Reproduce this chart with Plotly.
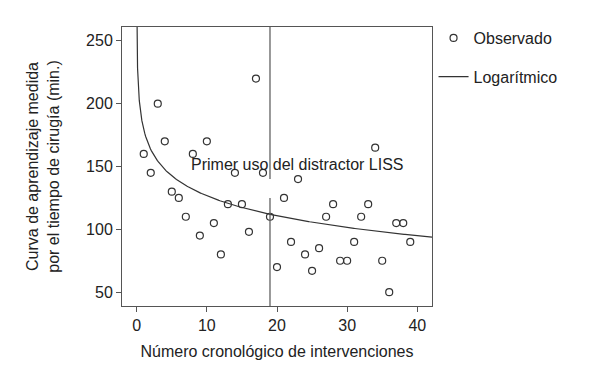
import numpy as np
import plotly.graph_objects as go

# Observed data: intervention number vs surgery time (min.)
intervention = list(range(1, 40))
observed_time = [160, 145, 200, 170, 130, 125, 110, 160, 95, 170,
                 105, 80, 120, 145, 120, 98, 220, 145, 110, 70,
                 125, 90, 140, 80, 67, 85, 110, 120, 75, 75,
                 90, 110, 120, 165, 75, 50, 105, 105, 90]

x_ticks = [0, 10, 20, 30, 40]
y_ticks = [50, 100, 150, 200, 250]

liss_first_use = 19
label_text = "Primer uso del distractor LISS"

# Logarithmic fit y = a + b*ln(x) from the observed data
b, a = np.polyfit(np.log(intervention), observed_time, 1)
curve_x = np.concatenate([np.geomspace(0.01, 1, 200), np.linspace(1, 42.1, 300)])
curve_y = a + b * np.log(curve_x)

font = "Liberation Sans, Arial, sans-serif"
axis_col = "#555555"
text_col = "#222222"
fs = 16

fig = go.Figure()
fig.add_trace(go.Scatter(
    x=intervention, y=observed_time, mode="markers", name="Observado",
    legendgroup="obs",
    marker=dict(symbol="circle-open", size=7, color="#333333", line=dict(width=1.2)),
))
fig.add_trace(go.Scatter(
    x=curve_x, y=curve_y, mode="lines", name="Logarítmico",
    legendgroup="log",
    line=dict(color="#333333", width=1.2),
))

# Vertical reference line at first use of the distractor (with gap below label)
fig.add_shape(type="line", xref="x", yref="y", x0=liss_first_use, x1=liss_first_use,
              y0=39, y1=125, line=dict(color=axis_col, width=1.2))
fig.add_shape(type="line", xref="x", yref="y", x0=liss_first_use, x1=liss_first_use,
              y0=140, y1=261, line=dict(color=axis_col, width=1.2))

fig.add_annotation(x=22.9, y=151.5, xref="x", yref="y", text=label_text,
                   showarrow=False, font=dict(family=font, size=fs, color=text_col))

axis_common = dict(showline=True, linecolor=axis_col, linewidth=1, mirror=True,
                   ticks="outside", ticklen=5, tickcolor=axis_col, showgrid=False,
                   zeroline=False, automargin=False,
                   tickfont=dict(family=font, size=fs, color=text_col))

fig.update_xaxes(range=[-2.1, 42.1], tickvals=x_ticks,
                 title=dict(text="Número cronológico de intervenciones",
                            font=dict(family=font, size=fs, color=text_col), standoff=12),
                 **axis_common)
fig.update_yaxes(range=[39, 261], tickvals=y_ticks,
                 title=dict(text="Curva de aprendizaje medida<br>por el tiempo de cirugía (min.)",
                            font=dict(family=font, size=fs, color=text_col), standoff=22),
                 **axis_common)

# The page body adds an 8px offset; margins compensate so the plot sits as in the reference
fig.update_layout(
    width=594, height=366,
    margin=dict(l=114, r=170, t=19, b=68, autoexpand=False),
    paper_bgcolor="white", plot_bgcolor="white",
    showlegend=True,
    legend=dict(x=1.005, y=1.0215, xanchor="left", yanchor="top",
                traceorder="grouped", tracegroupgap=15,
                font=dict(family=font, size=fs, color=text_col),
                bgcolor="rgba(0,0,0,0)"),
)

fig.write_html("out.html")
